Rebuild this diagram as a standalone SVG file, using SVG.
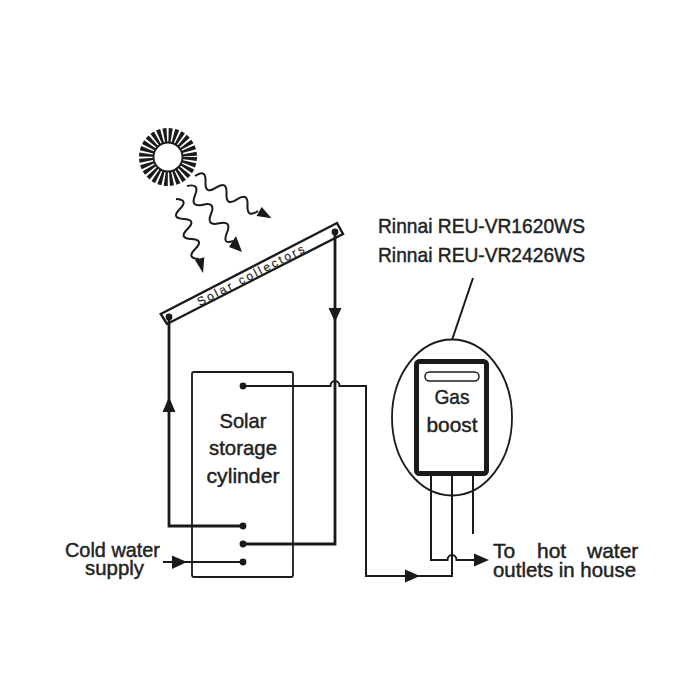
<svg xmlns="http://www.w3.org/2000/svg" width="700" height="700" viewBox="0 0 700 700">
<style>
text{font-family:"Liberation Sans",Arial,sans-serif;font-size:21px;fill:#222;stroke:#222;stroke-width:.45}
.m{text-anchor:middle}
.p{fill:none;stroke:#1a1a1a;stroke-width:2.8}
.t{fill:none;stroke:#1a1a1a;stroke-width:2}
.w{fill:none;stroke:#1a1a1a;stroke-width:2}
.a{fill:#1a1a1a}
</style>
<defs><circle id="d" r="3.400" class="a"/></defs>
<rect width="700" height="700" fill="#fff"/>
<g id="sun"><circle cx="168" cy="157" r="21.500" fill="none" stroke="#1a1a1a" stroke-width="15" stroke-dasharray="3.100 1.720"/><circle cx="168" cy="157" r="14.500" fill="none" stroke="#1a1a1a" stroke-width="1.800"/></g>
<g id="rays">
<path class="w" d="M195 176Q206.200 168.500 205.500 181.800T216 187.700T226.500 193.500T237 199.300T247.500 205.200T258 211"/>
<polygon class="a" points="271.500,218.300 256.500,216 261.700,207"/>
<path class="w" d="M187 186Q200.100 182.900 195 195.300T203 204.700T211 214T219 223.300T227 232.700T233 241"/>
<polygon class="a" points="242,252 229,247 236,236"/>
<path class="w" d="M176 199Q189.100 199.700 179.800 209T183.700 219T187.500 229T191.300 239T195.200 249T199 259"/>
<polygon class="a" points="203,273 195,260 204.300,257.300"/>
</g>
<g id="collector">
<polygon points="160.700,314 337,223 343,234 167,324" fill="#fff" stroke="#1a1a1a" stroke-width="2.400"/>
<text transform="translate(252.500 279) rotate(-27.300)" class="m" textLength="119" style="font-size:12px;stroke-width:.15">Solar collectors</text>
</g>
<g id="cylinder">
<rect x="192" y="372" width="101" height="205" rx="2" fill="none" stroke="#1a1a1a" stroke-width="1.800"/>
<text class="m" x="243" y="428" textLength="47" lengthAdjust="spacingAndGlyphs">Solar</text>
<text class="m" x="243" y="455" textLength="68" lengthAdjust="spacingAndGlyphs">storage</text>
<text class="m" x="243" y="483" textLength="73" lengthAdjust="spacingAndGlyphs">cylinder</text>
</g>
<g id="gas-boost">
<ellipse cx="452" cy="417.500" rx="60" ry="78" fill="none" stroke="#1a1a1a" stroke-width="1.800"/>
<rect x="416.500" y="361.500" width="70" height="112" rx="3" fill="#fff" stroke="#1a1a1a" stroke-width="5"/>
<rect x="425" y="372" width="54" height="9" rx="4.500" fill="none" stroke="#1a1a1a" stroke-width="1.500"/>
<text class="m" x="452" y="404" textLength="35" lengthAdjust="spacingAndGlyphs">Gas</text>
<text class="m" x="452" y="432" textLength="51" lengthAdjust="spacingAndGlyphs">boost</text>
</g>
<g id="connectors">
<path class="p" d="M169 317V526H243"/>
<polygon class="a" points="169,397 162.500,412 175.500,412"/>
<path class="p" d="M335 232V544H243"/>
<polygon class="a" points="335,322 328.500,308 341.500,308"/>
<path class="t" d="M243 386H330.500A4.500 5 0 0 1 339.500 386H366V576H452V476"/>
<polygon class="a" points="420,576 405,569.500 405,582.500"/>
<path class="t" d="M163 562H243"/>
<polygon class="a" points="187,562 172,555.500 172,569"/>
<path class="t" d="M431 476V560H447.500A4.500 5 0 0 1 456.500 560H476"/>
<polygon class="a" points="489,560 474,553.500 474,566.500"/>
<path class="t" d="M473 476V534"/>
<path class="t" d="M473 278L452 340"/>
<use href="#d" x="169" y="317"/><use href="#d" x="335" y="232"/>
<use href="#d" x="243" y="386"/><use href="#d" x="243" y="526"/>
<use href="#d" x="243" y="544"/><use href="#d" x="243" y="562"/>
</g>
<g id="labels">
<text x="378" y="233" textLength="207" lengthAdjust="spacingAndGlyphs">Rinnai REU-VR1620WS</text>
<text x="378" y="262" textLength="207" lengthAdjust="spacingAndGlyphs">Rinnai REU-VR2426WS</text>
<text x="65" y="557" textLength="95" lengthAdjust="spacingAndGlyphs">Cold water</text>
<text x="85" y="575" textLength="59" lengthAdjust="spacingAndGlyphs">supply</text>
<text y="558"><tspan x="493">To</tspan><tspan x="537">hot</tspan><tspan x="587">water</tspan></text>
<text x="493" y="577" textLength="143" lengthAdjust="spacingAndGlyphs">outlets in house</text>
</g>
</svg>
